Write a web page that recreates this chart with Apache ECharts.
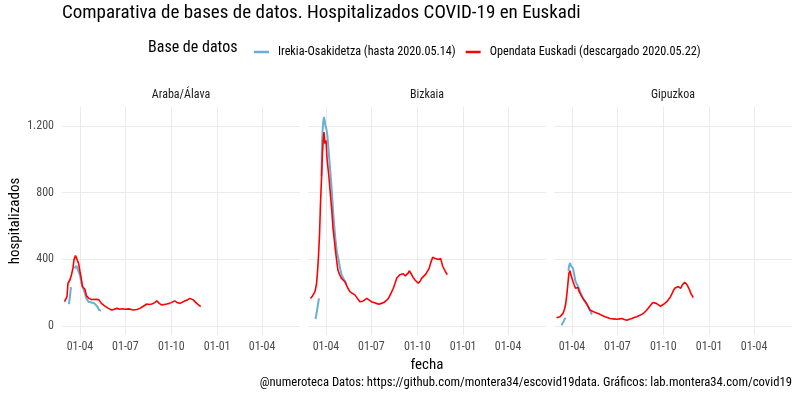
<!doctype html>
<html lang="es">
<head>
<meta charset="UTF-8">
<title>Hospitalizados COVID-19 en Euskadi</title>
<script src="https://cdn.jsdelivr.net/npm/echarts@6/dist/echarts.min.js"></script>
<style>
  html, body { margin: 0; padding: 0; background: #fff; }
  #chart { width: 800px; height: 400px; }
</style>
</head>
<body>
<div id="chart"></div>
<script>
// --- datos ---
var territorios = ['Araba/Álava', 'Bizkaia', 'Gipuzkoa'];
var fuentes = ['Irekia-Osakidetza (hasta 2020.05.14)', 'Opendata Euskadi (descargado 2020.05.22)'];

// Irekia-Osakidetza (null = hueco en la serie)
var arabaIrekiaFechas = ['2020-03-10','2020-03-12','2020-03-14','2020-03-17','2020-03-21','2020-03-25','2020-03-27','2020-03-29','2020-04-01','2020-04-04','2020-04-08','2020-04-11','2020-04-14','2020-04-18','2020-04-24','2020-04-30','2020-05-04','2020-05-06','2020-05-09','2020-05-11','2020-05-13'];
var arabaIrekia =       [130, 180, 232, null, 345, 360, 372, 355, 305, 256, 220, 195, 165, 145, 140, 135, 135, 115, 97, 85, 90];

var bizkaiaIrekiaFechas = ['2020-03-11','2020-03-14','2020-03-16','2020-03-18','2020-03-20','2020-03-23','2020-03-24','2020-03-26','2020-03-28','2020-03-29','2020-03-31','2020-04-02','2020-04-04','2020-04-06','2020-04-08','2020-04-11','2020-04-13','2020-04-15','2020-04-17','2020-04-20','2020-04-23','2020-04-26','2020-04-29','2020-05-02','2020-05-05','2020-05-09','2020-05-12'];
var bizkaiaIrekia =       [40, 90, 130, 165, null, 900, 1100, 1210, 1256, 1240, 1200, 1180, 1140, 1060, 990, 880, 800, 700, 620, 520, 440, 400, 350, 310, 290, 270, 250];

var gipuzkoaIrekiaFechas = ['2020-03-11','2020-03-13','2020-03-15','2020-03-17','2020-03-19','2020-03-21','2020-03-25','2020-03-26','2020-03-28','2020-03-30','2020-03-31','2020-04-03','2020-04-06','2020-04-08','2020-04-10','2020-04-12','2020-04-15','2020-04-17','2020-04-20','2020-04-24','2020-04-27','2020-05-01','2020-05-03','2020-05-07','2020-05-11'];
var gipuzkoaIrekia =       [4, 15, 25, 38, 48, null, 330, 358, 378, 360, 350, 347, 300, 267, 270, 277, 226, 205, 186, 160, 145, 130, 125, 95, 68];

// Opendata Euskadi
var arabaOpenFechas = ['2020-03-01','2020-03-04','2020-03-06','2020-03-08','2020-03-12','2020-03-15','2020-03-18','2020-03-20','2020-03-23','2020-03-24','2020-03-26','2020-03-29','2020-04-01','2020-04-04','2020-04-06','2020-04-08','2020-04-11','2020-04-14','2020-04-19','2020-04-24','2020-04-28','2020-05-04','2020-05-09','2020-05-14','2020-05-21','2020-05-28','2020-06-04','2020-06-09','2020-06-14','2020-06-20','2020-06-25','2020-06-30','2020-07-08','2020-07-12','2020-07-17','2020-07-24','2020-07-30','2020-08-06','2020-08-13','2020-08-18','2020-08-23','2020-08-28','2020-09-02','2020-09-07','2020-09-12','2020-09-17','2020-09-22','2020-09-27','2020-10-02','2020-10-08','2020-10-13','2020-10-18','2020-10-23','2020-10-28','2020-11-02','2020-11-07','2020-11-11','2020-11-14','2020-11-18','2020-11-21','2020-11-25','2020-11-29'];
var arabaOpen =       [145, 148, 176, 256, 277, 307, 347, 398, 422, 430, 415, 378, 327, 277, 235, 232, 220, 180, 165, 158, 156, 160, 156, 135, 119, 105, 95, 100, 105, 100, 103, 100, 102, 98, 95, 98, 105, 118, 131, 128, 131, 138, 150, 135, 125, 128, 131, 135, 141, 150, 140, 135, 142, 150, 155, 165, 160, 156, 148, 135, 125, 115];

var bizkaiaOpenFechas = ['2020-03-01','2020-03-05','2020-03-10','2020-03-13','2020-03-15','2020-03-17','2020-03-19','2020-03-21','2020-03-23','2020-03-25','2020-03-27','2020-03-28','2020-03-30','2020-04-01','2020-04-03','2020-04-05','2020-04-07','2020-04-09','2020-04-11','2020-04-13','2020-04-15','2020-04-18','2020-04-20','2020-04-23','2020-04-25','2020-04-28','2020-05-02','2020-05-05','2020-05-09','2020-05-12','2020-05-15','2020-05-19','2020-05-24','2020-05-29','2020-06-03','2020-06-08','2020-06-14','2020-06-18','2020-06-22','2020-06-26','2020-07-01','2020-07-06','2020-07-11','2020-07-16','2020-07-21','2020-07-26','2020-07-30','2020-08-03','2020-08-06','2020-08-10','2020-08-14','2020-08-18','2020-08-21','2020-08-24','2020-08-27','2020-08-31','2020-09-03','2020-09-07','2020-09-10','2020-09-13','2020-09-15','2020-09-18','2020-09-20','2020-09-23','2020-09-26','2020-09-30','2020-10-03','2020-10-07','2020-10-10','2020-10-14','2020-10-18','2020-10-22','2020-10-25','2020-10-28','2020-11-01','2020-11-04','2020-11-06','2020-11-09','2020-11-12','2020-11-15','2020-11-17','2020-11-19','2020-11-21','2020-11-24','2020-11-26','2020-11-28','2020-11-30'];
var bizkaiaOpen =       [165, 180, 206, 250, 320, 420, 540, 730, 880, 1040, 1130, 1165, 1095, 1115, 1010, 950, 893, 820, 752, 680, 590, 510, 450, 380, 335, 310, 285, 280, 265, 245, 226, 206, 195, 186, 165, 145, 148, 158, 165, 155, 145, 140, 135, 130, 135, 140, 150, 160, 176, 200, 226, 260, 287, 295, 307, 300, 313, 300, 307, 318, 331, 320, 307, 290, 277, 268, 256, 270, 287, 290, 311, 320, 347, 380, 412, 400, 404, 395, 398, 392, 404, 380, 358, 340, 331, 318, 307];

var gipuzkoaOpenFechas = ['2020-03-01','2020-03-05','2020-03-08','2020-03-11','2020-03-14','2020-03-17','2020-03-19','2020-03-21','2020-03-23','2020-03-25','2020-03-26','2020-03-28','2020-03-30','2020-03-31','2020-04-03','2020-04-05','2020-04-08','2020-04-10','2020-04-13','2020-04-15','2020-04-17','2020-04-20','2020-04-23','2020-04-27','2020-04-30','2020-05-03','2020-05-07','2020-05-12','2020-05-17','2020-05-22','2020-05-27','2020-06-01','2020-06-06','2020-06-11','2020-06-16','2020-06-23','2020-06-30','2020-07-05','2020-07-10','2020-07-15','2020-07-20','2020-07-25','2020-07-30','2020-08-04','2020-08-09','2020-08-14','2020-08-19','2020-08-24','2020-08-29','2020-09-02','2020-09-06','2020-09-10','2020-09-13','2020-09-17','2020-09-21','2020-09-25','2020-09-28','2020-10-01','2020-10-04','2020-10-08','2020-10-11','2020-10-15','2020-10-18','2020-10-21','2020-10-24','2020-10-28','2020-10-31','2020-11-03','2020-11-05','2020-11-08','2020-11-10','2020-11-13','2020-11-15','2020-11-18','2020-11-20','2020-11-23','2020-11-25','2020-11-28','2020-11-30'];
var gipuzkoaOpen =       [48, 52, 55, 62, 75, 100, 125, 170, 226, 290, 317, 331, 305, 297, 267, 250, 226, 232, 230, 210, 196, 180, 165, 150, 135, 118, 95, 88, 81, 75, 69, 62, 55, 50, 44, 42, 40, 42, 44, 38, 34, 40, 44, 50, 55, 62, 69, 80, 95, 110, 125, 140, 145, 135, 129, 118, 121, 128, 135, 145, 156, 172, 190, 210, 226, 232, 236, 232, 226, 245, 256, 262, 256, 245, 236, 215, 196, 182, 170];

// marcas de los ejes
var fechasTicks = ['2020-04-01', '2020-07-01', '2020-10-01', '2021-01-01', '2021-04-01'];
var valoresTicks = [0, 400, 800, 1200];

// --- construcción ---
var fuente = "'Roboto Condensed', 'Liberation Sans Narrow', 'Roboto', sans-serif";
var colorIrekia = '#6baed6';
var colorOpen = '#ff0000';

function ts(s) {
  var p = s.split('-');
  return Date.UTC(+p[0], +p[1] - 1, +p[2]);
}
function pares(fechas, valores) {
  return fechas.map(function (f, i) { return [ts(f), valores[i]]; });
}
function dosDigitos(n) { return (n < 10 ? '0' : '') + n; }

var irekia = [pares(arabaIrekiaFechas, arabaIrekia), pares(bizkaiaIrekiaFechas, bizkaiaIrekia), pares(gipuzkoaIrekiaFechas, gipuzkoaIrekia)];
var open = [pares(arabaOpenFechas, arabaOpen), pares(bizkaiaOpenFechas, bizkaiaOpen), pares(gipuzkoaOpenFechas, gipuzkoaOpen)];
var ticksX = fechasTicks.map(ts);

var panelLeft = 62, panelPitch = 246, panelWidth = 238;
var grids = [], xAxes = [], yAxes = [], series = [];

territorios.forEach(function (t, i) {
  grids.push({ left: panelLeft + i * panelPitch, width: panelWidth, top: 107, height: 228 });
  xAxes.push({
    type: 'value', gridIndex: i,
    min: ts('2020-02-25'), max: ts('2021-06-16'),
    name: i === 1 ? 'fecha' : '', nameLocation: 'middle', nameGap: 21,
    nameTextStyle: { fontFamily: fuente, fontSize: 15, color: '#000' },
    axisLine: { show: false },
    axisTick: { show: false, customValues: ticksX },
    axisLabel: {
      customValues: ticksX, margin: 6,
      fontFamily: fuente, fontSize: 12, color: '#4d4d4d',
      formatter: function (v) {
        var d = new Date(v);
        return dosDigitos(d.getUTCDate()) + '-' + dosDigitos(d.getUTCMonth() + 1);
      }
    },
    splitLine: { show: true, lineStyle: { color: '#ebebeb', width: 1 } }
  });
  yAxes.push({
    type: 'value', gridIndex: i,
    min: -55, max: 1315,
    name: i === 0 ? 'hospitalizados' : '', nameLocation: 'middle', nameGap: 39,
    nameTextStyle: { fontFamily: fuente, fontSize: 15, color: '#000' },
    axisLine: { show: false },
    axisTick: { show: false, customValues: valoresTicks },
    axisLabel: {
      show: i === 0, customValues: valoresTicks, margin: 8,
      fontFamily: fuente, fontSize: 12, color: '#4d4d4d',
      formatter: function (v) { return String(v).replace(/\B(?=(\d{3})+(?!\d))/g, '.'); }
    },
    splitLine: { show: true, lineStyle: { color: '#ebebeb', width: 1 } }
  });
  series.push({
    name: fuentes[0], type: 'line', xAxisIndex: i, yAxisIndex: i,
    data: irekia[i], showSymbol: false, connectNulls: false,
    lineStyle: { color: colorIrekia, width: 2 }, itemStyle: { color: colorIrekia },
    z: 2
  });
  series.push({
    name: fuentes[1], type: 'line', xAxisIndex: i, yAxisIndex: i,
    data: open[i], showSymbol: false,
    lineStyle: { color: colorOpen, width: 1.6 }, itemStyle: { color: colorOpen },
    z: 3
  });
});

var textos = [
  { type: 'text', left: 62, top: 4, style: { text: 'Comparativa de bases de datos. Hospitalizados COVID-19 en Euskadi', fontFamily: fuente, fontSize: 19, fill: '#000' } },
  { type: 'text', left: 148, top: 40, style: { text: 'Base de datos', fontFamily: fuente, fontSize: 16, fill: '#000' } },
  { type: 'text', right: 8, top: 376, style: { text: '@numeroteca Datos: https://github.com/montera34/escovid19data. Gráficos: lab.montera34.com/covid19', fontFamily: fuente, fontSize: 12.7, fill: '#000' } }
];
territorios.forEach(function (t, i) {
  textos.push({
    type: 'text', x: panelLeft + i * panelPitch + panelWidth / 2, y: 95,
    style: { text: t, fontFamily: fuente, fontSize: 12, fill: '#1a1a1a', textAlign: 'center', textVerticalAlign: 'middle' }
  });
});

var chart = echarts.init(document.getElementById('chart'), null, { renderer: 'canvas' });
chart.setOption({
  animation: false,
  backgroundColor: '#fff',
  grid: grids,
  xAxis: xAxes,
  yAxis: yAxes,
  legend: {
    data: fuentes, left: 249, top: 41,
    itemWidth: 15, itemHeight: 2.5, itemGap: 10,
    icon: 'rect',
    textStyle: { fontFamily: fuente, fontSize: 12.2, color: '#000', padding: [0, 0, 0, 4] }
  },
  graphic: textos,
  series: series
});
</script>
</body>
</html>
